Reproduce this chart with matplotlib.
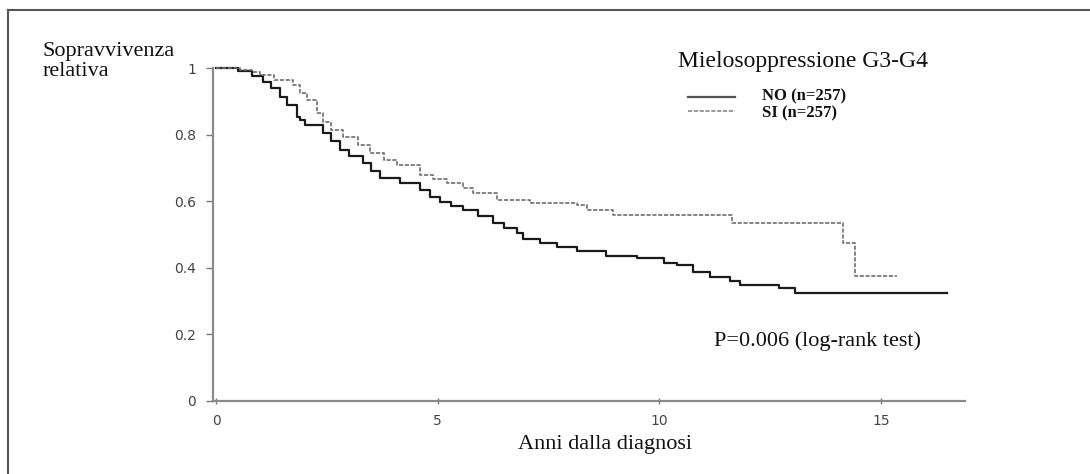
import matplotlib.pyplot as plt
from matplotlib.lines import Line2D

# Kaplan-Meier style steps (years, relative survival)
no_times = [0, 0.5, 0.8, 1.06, 1.25, 1.44, 1.6, 1.83, 1.9, 2.0, 2.42, 2.6, 2.8, 3.0,
            3.32, 3.5, 3.7, 4.15, 4.6, 4.83, 5.06, 5.3, 5.58, 5.9, 6.25, 6.5, 6.8,
            6.93, 7.3, 7.7, 8.15, 8.8, 9.5, 10.1, 10.4, 10.77, 11.15, 11.6, 11.83,
            12.7, 13.07, 16.5]
no_surv = [1.0, 0.99, 0.975, 0.958, 0.94, 0.913, 0.89, 0.853, 0.844, 0.83, 0.805,
           0.78, 0.754, 0.735, 0.715, 0.69, 0.67, 0.655, 0.634, 0.613, 0.598, 0.585,
           0.574, 0.555, 0.535, 0.52, 0.505, 0.486, 0.475, 0.462, 0.45, 0.435, 0.429,
           0.414, 0.408, 0.387, 0.372, 0.36, 0.348, 0.339, 0.324, 0.324]

si_times = [0, 0.55, 0.8, 1.0, 1.3, 1.74, 1.9, 2.05, 2.28, 2.42, 2.6, 2.87, 3.2, 3.48,
            3.8, 4.09, 4.6, 4.9, 5.2, 5.58, 5.8, 6.34, 7.09, 8.15, 8.37, 8.96, 11.65,
            14.15, 14.42, 15.37]
si_surv = [1.0, 0.995, 0.988, 0.979, 0.965, 0.949, 0.925, 0.904, 0.865, 0.838, 0.815,
           0.793, 0.77, 0.745, 0.725, 0.709, 0.679, 0.667, 0.655, 0.64, 0.625, 0.604,
           0.595, 0.589, 0.574, 0.559, 0.535, 0.474, 0.375, 0.375]

x_ticks = [0, 5, 10, 15]
y_ticks = [0, 0.2, 0.4, 0.6, 0.8, 1]
y_labels = ['0', '0.2', '0.4', '0.6', '0.8', '1']

W, H = 1090, 474
fig = plt.figure(figsize=(W / 100, H / 100), dpi=100)
fig.patch.set_facecolor('white')

# frame around the figure (top and left edges visible)
fig.add_artist(Line2D([8 / W, 8 / W], [0, 1 - 10 / H], color='#555555', lw=1.5))
fig.add_artist(Line2D([8 / W, 1], [1 - 10 / H, 1 - 10 / H], color='#555555', lw=1.5))

ax = fig.add_axes([213 / W, 73 / H, 752 / W, 333 / H])
ax.set_xlim(-0.07, 16.9)
ax.set_ylim(0, 1)

ax.step(no_times, no_surv, where='post', color='#1a1a1a', lw=1.6, clip_on=False)
ax.step(si_times, si_surv, where='post', color='#6e6e6e', lw=1.2,
        linestyle=(0, (2.5, 1)), clip_on=False)

for s in ['top', 'right']:
    ax.spines[s].set_visible(False)
for s in ['left', 'bottom']:
    ax.spines[s].set_color('#8a8a8a')
    ax.spines[s].set_linewidth(1.6)

ax.set_xticks(x_ticks)
ax.set_xticklabels([str(t) for t in x_ticks])
ax.set_yticks(y_ticks)
ax.set_yticklabels(y_labels)
ax.tick_params(axis='y', direction='out', length=5, width=1, color='#777777',
               labelsize=10, labelcolor='#444444', pad=7)
ax.tick_params(axis='x', direction='inout', length=5, width=1, color='#777777',
               labelsize=10, labelcolor='#444444', pad=7)

serif = 'Liberation Serif'
fig.text(43 / W, 1 - 42 / H, 'Sopravvivenza\nrelativa', family=serif, fontsize=16,
         ha='left', va='top', linespacing=1.05, color='#111111')
fig.text(803 / W, 1 - 62 / H, 'Mielosoppressione G3-G4', family=serif, fontsize=17,
         ha='center', va='center', color='#111111')

# legend
fig.add_artist(Line2D([688 / W, 735 / W], [1 - 97 / H, 1 - 97 / H], color='#555555', lw=1.6))
fig.add_artist(Line2D([688 / W, 735 / W], [1 - 111 / H, 1 - 111 / H], color='#888888',
                      lw=1.2, linestyle=(0, (2.5, 1))))
fig.text(762 / W, 1 - 96 / H, 'NO (n=257)', family=serif, fontsize=12, weight='bold',
         ha='left', va='center', color='#111111')
fig.text(762 / W, 1 - 113 / H, 'SI (n=257)', family=serif, fontsize=12, weight='bold',
         ha='left', va='center', color='#111111')

fig.text(817 / W, 1 - 341 / H, 'P=0.006 (log-rank test)', family=serif, fontsize=16,
         ha='center', va='center', color='#111111')
fig.text(605 / W, 1 - 445 / H, 'Anni dalla diagnosi', family=serif, fontsize=16,
         ha='center', va='center', color='#111111')

fig.savefig('out.png', dpi=100, facecolor='white')
